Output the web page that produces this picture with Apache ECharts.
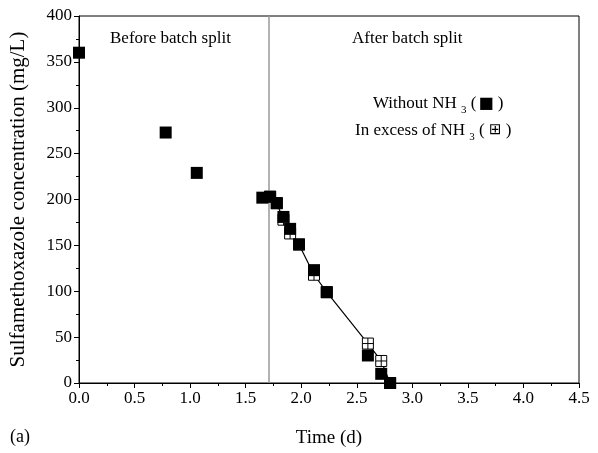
<!DOCTYPE html>
<html>
<head>
<meta charset="utf-8">
<script src="https://cdn.jsdelivr.net/npm/echarts@6/dist/echarts.min.js"></script>
<style>html,body{margin:0;padding:0;background:#fff}#c{width:598px;height:453px}</style>
</head>
<body>
<div id="c"></div>
<script>
// Without NH3 (filled squares)
var withoutX = [0.0, 0.78, 1.06, 1.65, 1.72, 1.78, 1.84, 1.90, 1.98, 2.115, 2.23, 2.60, 2.72, 2.80];
var withoutY = [360, 273, 229, 202, 203, 196, 181, 168, 151, 123, 99, 30, 10, 0];
// In excess of NH3 (crossed squares, connected by line)
var excessX = [1.72, 1.78, 1.84, 1.90, 1.98, 2.115, 2.23, 2.60, 2.72, 2.80];
var excessY = [203, 196, 178, 163, 151, 118, 99, 43, 24, 0];
var splitTime = 1.71;

function pairs(xs, ys){ return xs.map(function(x,i){ return [x, ys[i]]; }); }

var FONT = '"Liberation Serif", "Times New Roman", serif';
var chart = echarts.init(document.getElementById('c'), null, {renderer:'canvas'});
var crossPath = 'path://M0,0H10V10H0Z M5,0V10 M0,5H10';

chart.setOption({
  animation:false,
  backgroundColor:'#fff',
  grid:{left:79, right:19, top:16, bottom:70, show:true, borderColor:'#000', borderWidth:1},
  xAxis:{
    type:'value', min:0, max:4.5, interval:0.5,
    axisLine:{show:true, onZero:false, lineStyle:{color:'#000', width:1}},
    axisTick:{show:true, inside:false, length:5, lineStyle:{color:'#000'}},
    minorTick:{show:true, splitNumber:2, length:3, lineStyle:{color:'#000'}},
    splitLine:{show:false},
    axisLabel:{color:'#000', fontFamily:FONT, fontSize:17, margin:7,
      formatter:function(v){ return v.toFixed(1); }},
    name:'Time (d)', nameLocation:'middle', nameGap:46,
    nameTextStyle:{color:'#000', fontFamily:FONT, fontSize:19}
  },
  yAxis:{
    type:'value', min:0, max:400, interval:50,
    axisLine:{show:true, onZero:false, lineStyle:{color:'#000', width:1}},
    axisTick:{show:true, inside:false, length:5, lineStyle:{color:'#000'}},
    minorTick:{show:true, splitNumber:2, length:3, lineStyle:{color:'#000'}},
    splitLine:{show:false},
    axisLabel:{color:'#000', fontFamily:FONT, fontSize:17, margin:7},
    name:'Sulfamethoxazole concentration (mg/L)', nameLocation:'middle', nameGap:50,
    nameTextStyle:{color:'#000', fontFamily:FONT, fontSize:21}
  },
  series:[
    {
      type:'line', name:'In excess of NH3', data:pairs(excessX, excessY),
      symbol:crossPath, symbolSize:11, z:3,
      lineStyle:{color:'#000', width:1.2},
      itemStyle:{color:'#fff', borderColor:'#000', borderWidth:1, opacity:1},
      markLine:{silent:true, symbol:'none', label:{show:false},
        lineStyle:{color:'#999', width:1.5, type:'solid'},
        data:[{xAxis:splitTime}]}
    },
    {
      type:'scatter', name:'Without NH3', data:pairs(withoutX, withoutY),
      symbol:'rect', symbolSize:12, z:5,
      itemStyle:{color:'#000', opacity:1}
    }
  ],
  graphic:[
    {type:'text', left:110, top:30, z:10, style:{text:'Before batch split', font:'17px '+FONT, fill:'#000'}},
    {type:'text', left:352, top:30, z:10, style:{text:'After batch split', font:'17px '+FONT, fill:'#000'}},
    {type:'text', left:373, top:95, z:10, style:{
      text:'{t|Without NH }{s|3}{t| (}{b|■}{t| )}',
      rich:{
        t:{fontFamily:FONT, fontSize:17, fill:'#000', lineHeight:22, verticalAlign:'middle'},
        s:{fontFamily:FONT, fontSize:11, fill:'#000', padding:[14,0,0,0]},
        b:{fontFamily:'DejaVu Sans', fontSize:16, fill:'#000', padding:[0,0,0,2]}
      }}},
    {type:'text', left:355, top:122, z:10, style:{
      text:'{t|In excess of NH }{s|3}{t| ( }{b|⊞}{t| )}',
      rich:{
        t:{fontFamily:FONT, fontSize:17, fill:'#000', lineHeight:22, verticalAlign:'middle'},
        s:{fontFamily:FONT, fontSize:11, fill:'#000', padding:[14,0,0,0]},
        b:{fontFamily:'DejaVu Sans', fontSize:15, fill:'#000'}
      }}},
    {type:'text', left:10, top:428, z:10, style:{text:'(a)', font:'18px '+FONT, fill:'#000'}}
  ]
});
</script>
</body>
</html>
